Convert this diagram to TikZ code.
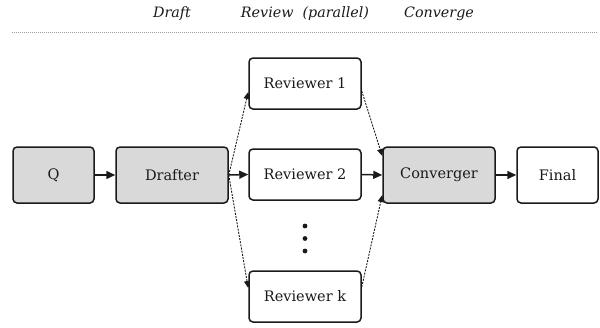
\documentclass[tikz,border=0pt]{standalone}
\usepackage{fontspec}
\setmainfont{DejaVu Serif}
\usetikzlibrary{arrows.meta,calc}

\definecolor{boxfill}{HTML}{D9D9D9}
\definecolor{boxline}{HTML}{1A1A1A}
\definecolor{ruleline}{HTML}{9A9A9A}

\tikzset{
  stagebox/.style={draw=boxline, line width=1.5pt, rounded corners=4pt,
    minimum height=56pt, font=\fontsize{14.5}{17}\selectfont, text=boxline, inner sep=0pt},
  shaded/.style={stagebox, fill=boxfill},
  plain/.style={stagebox, fill=white},
  wide/.style={minimum width=112pt},
  narrow/.style={minimum width=81pt},
  revbox/.style={plain, wide, minimum height=51pt},
  flow/.style={-{Triangle[length=9pt,width=8pt]}, line width=1.5pt, draw=boxline},
  fan/.style={-{Triangle[length=7pt,width=6pt]}, line width=0.9pt, draw=boxline,
    dash pattern=on 2pt off 1.2pt},
  heading/.style={font=\fontsize{14.3}{17}\selectfont\itshape, text=boxline},
}

\begin{document}
\begin{tikzpicture}[x=1pt,y=-1pt]
  \useasboundingbox (0,0) rectangle (600,327);

  % stage headings and separator
  \node[heading] (hdraft) at (172,14) {Draft};
  \node[heading] (hreview) at (305,14) {Review\ \ (parallel)};
  \node[heading] (hconv) at (439,14) {Converge};
  \draw[ruleline, line width=0.6pt, dash pattern=on 0.8pt off 1.2pt] (12,32) -- (598,32);

  % stages
  \node[shaded, narrow] (q) at (53.5,175) {Q};
  \node[shaded, wide] (drafter) at (172,175) {Drafter};
  \node[revbox] (r1) at (305,83.5) {Reviewer 1};
  \node[revbox] (r2) at (305,174.5) {Reviewer 2};
  \node[revbox] (rk) at (305,296.5) {Reviewer k};
  \node[shaded, wide] (conv) at (439,175) {Converger};
  \node[plain, narrow] (final) at (557.5,175) {Final};

  % elided reviewers
  \foreach \yy/\nm in {226/d1,238.5/d2,251/d3}
    \fill[boxline] (305,\yy) circle (2.4pt) coordinate (\nm);

  % main flow
  \draw[flow] (q.east) -- (drafter.west);
  \draw[flow] (drafter.east) -- (r2.west);
  \draw[flow] (r2.east) -- (conv.west);
  \draw[flow] (conv.east) -- (final.west);

  % fan-out and fan-in
  \draw[fan] (drafter.east) -- ($(r1.west)+(0,8.5)$);
  \draw[fan] (drafter.east) -- ($(rk.west)+(0,-8.5)$);
  \draw[fan] ($(r1.east)+(0,7.5)$) -- ($(conv.west)+(0,-19)$);
  \draw[fan] ($(rk.east)+(0,-9.5)$) -- ($(conv.west)+(0,20)$);
\end{tikzpicture}
\end{document}
